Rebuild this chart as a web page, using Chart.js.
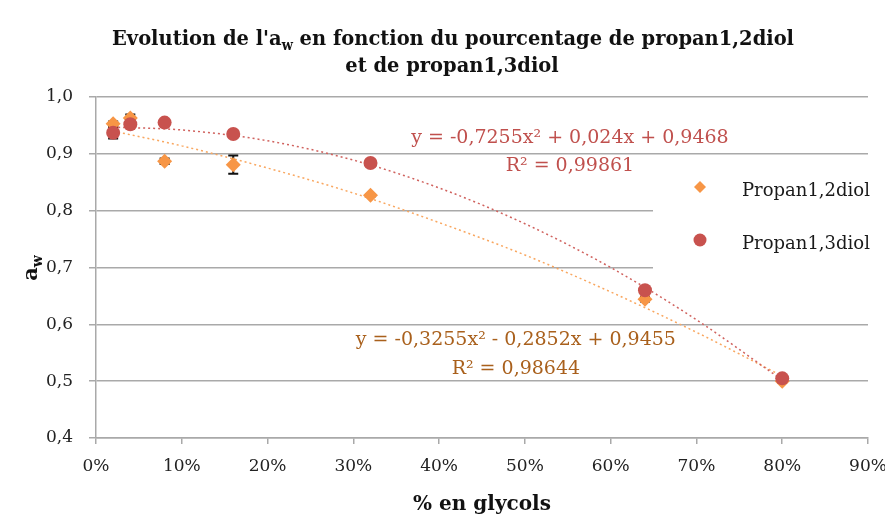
<!DOCTYPE html>
<html>
<head>
<meta charset="utf-8">
<script src="https://cdn.jsdelivr.net/npm/chart.js@4.4.1/dist/chart.umd.min.js"></script>
<style>
  html, body { margin: 0; padding: 0; background: #fff; }
  #wrap { width: 885px; height: 517px; position: relative; }
</style>
</head>
<body>
<div id="wrap"><canvas id="chart"></canvas></div>
<script>
// % glycol (fraction) and measured a_w
const xPercent = [0.02, 0.04, 0.08, 0.16, 0.32, 0.64, 0.80];
const aw12 = [0.953, 0.963, 0.887, 0.881, 0.827, 0.644, 0.500];
const err12 = [0.004, 0.006, 0.005, 0.016, 0.002, 0.004, 0.002];
const aw13 = [0.937, 0.952, 0.955, 0.935, 0.884, 0.660, 0.505];
const err13 = [0.010, 0.003, 0.002, 0.002, 0.002, 0.003, 0.002];

// points
const trendX = [0.02, 0.10, 0.20, 0.30, 0.40, 0.50, 0.60, 0.70, 0.80];
const trend12 = [0.940, 0.914, 0.875, 0.831, 0.779, 0.722, 0.657, 0.586, 0.509];
const trend13 = [0.947, 0.942, 0.923, 0.889, 0.840, 0.777, 0.700, 0.608, 0.502];

const seriesNames = ['Propan1,2diol', 'Propan1,3diol'];
const eq12 = ['y = -0,3255x² - 0,2852x + 0,9455', 'R² = 0,98644'];
const eq13 = ['y = -0,7255x² + 0,024x + 0,9468', 'R² = 0,99861'];

const ORANGE = '#F79646';
const RED = '#C8524E';
const GRID = '#a9a9a9';
const SERIF = "'DejaVu Serif', 'Liberation Serif', serif";

const toPts = (xs, ys) => xs.map((x, i) => ({ x: x, y: ys[i] }));

// error bars under the markers
const errorBars = {
  id: 'errorBars',
  beforeDatasetsDraw(chart) {
    const { ctx, scales: { x, y } } = chart;
    ctx.save();
    ctx.strokeStyle = '#111';
    ctx.lineWidth = 2;
    [[aw12, err12], [aw13, err13]].forEach(([vals, errs]) => {
      vals.forEach((v, i) => {
        const px = x.getPixelForValue(xPercent[i]);
        const top = y.getPixelForValue(v + errs[i]);
        const bot = y.getPixelForValue(v - errs[i]);
        ctx.beginPath();
        ctx.moveTo(px, top); ctx.lineTo(px, bot);
        ctx.moveTo(px - 5, top); ctx.lineTo(px + 5, top);
        ctx.moveTo(px - 5, bot); ctx.lineTo(px + 5, bot);
        ctx.stroke();
      });
    });
    ctx.restore();
  }
};

// legend sits on a white box over the grid, inside the plot
const boxLegend = {
  id: 'boxLegend',
  beforeDatasetsDraw(chart) {
    const ctx = chart.ctx;
    ctx.save();
    ctx.fillStyle = '#fff';
    ctx.fillRect(653, 160, 232, 124);
    // diamond
    ctx.fillStyle = ORANGE;
    ctx.beginPath();
    ctx.moveTo(700, 181); ctx.lineTo(706, 187); ctx.lineTo(700, 193); ctx.lineTo(694, 187);
    ctx.closePath(); ctx.fill();
    // circle
    ctx.fillStyle = RED;
    ctx.beginPath(); ctx.arc(700, 240, 6.5, 0, Math.PI * 2); ctx.fill();
    ctx.fillStyle = '#1a1a1a';
    ctx.font = '18px ' + SERIF;
    ctx.textBaseline = 'alphabetic';
    ctx.textAlign = 'left';
    ctx.fillText(seriesNames[0], 742, 196);
    ctx.fillText(seriesNames[1], 742, 249);
    ctx.restore();
  }
};

// title with subscript, y axis title, trend equations
const texts = {
  id: 'texts',
  afterDraw(chart) {
    const { ctx, scales: { x, y } } = chart;
    ctx.save();
    // title
    const big = 'bold 21px ' + SERIF, small = 'bold 14px ' + SERIF;
    const parts = [["Evolution de l'a", big, 0], ['w', small, 5], [' en fonction du pourcentage de propan1,2diol', big, 0]];
    let w = 0;
    parts.forEach(p => { ctx.font = p[1]; w += ctx.measureText(p[0]).width; });
    const sx = 682 / w;
    ctx.fillStyle = '#111';
    ctx.textBaseline = 'alphabetic';
    ctx.save();
    ctx.translate(112, 45);
    ctx.scale(sx, 1);
    let cx = 0;
    parts.forEach(p => { ctx.font = p[1]; ctx.fillText(p[0], cx, p[2]); cx += ctx.measureText(p[0]).width; });
    ctx.restore();
    ctx.save();
    ctx.translate(452, 72);
    ctx.scale(sx, 1);
    ctx.font = big; ctx.textAlign = 'center';
    ctx.fillText('et de propan1,3diol', 0, 0);
    ctx.restore();

    // y axis title a_w
    ctx.save();
    ctx.translate(37, 268);
    ctx.rotate(-Math.PI / 2);
    ctx.font = 'bold 21px ' + SERIF;
    const aw = ctx.measureText('a').width;
    ctx.font = 'bold 14px ' + SERIF;
    const ww = ctx.measureText('w').width;
    const start = -(aw + ww) / 2;
    ctx.font = 'bold 21px ' + SERIF;
    ctx.fillText('a', start, 0);
    ctx.font = 'bold 14px ' + SERIF;
    ctx.fillText('w', start + aw, 5);
    ctx.restore();

    // equations
    ctx.font = '19px ' + SERIF;
    ctx.textAlign = 'center';
    ctx.fillStyle = '#C0504D';
    ctx.fillText(eq13[0], x.getPixelForValue(0.5525), 143);
    ctx.fillText(eq13[1], x.getPixelForValue(0.5525), 171);
    ctx.fillStyle = '#A9601C';
    ctx.fillText(eq12[0], x.getPixelForValue(0.4895), 345);
    ctx.fillText(eq12[1], x.getPixelForValue(0.4895), 374);
    ctx.restore();
  }
};

new Chart(document.getElementById('chart'), {
  type: 'scatter',
  data: {
    datasets: [
      {
        label: seriesNames[1],
        data: toPts(xPercent, aw13),
        backgroundColor: RED, borderColor: RED,
        pointStyle: 'circle', pointRadius: 7, pointBorderWidth: 0,
        order: 0
      },
      {
        label: seriesNames[0],
        data: toPts(xPercent, aw12),
        backgroundColor: ORANGE, borderColor: ORANGE,
        pointStyle: 'rectRot', pointRadius: 7.5, pointBorderWidth: 0,
        order: 1
      },
      {
        type: 'line', label: 'trend13',
        data: toPts(trendX, trend13),
        borderColor: '#D0625E', borderWidth: 1.5, borderDash: [2, 3],
        pointRadius: 0, fill: false, cubicInterpolationMode: 'monotone',
        order: 2
      },
      {
        type: 'line', label: 'trend12',
        data: toPts(trendX, trend12),
        borderColor: '#F9A760', borderWidth: 1.5, borderDash: [2, 3],
        pointRadius: 0, fill: false, cubicInterpolationMode: 'monotone',
        order: 3
      }
    ]
  },
  options: {
    responsive: true,
    maintainAspectRatio: false,
    animation: false,
    layout: { padding: { top: 97, right: 17, left: 0, bottom: 0 } },
    scales: {
      x: {
        type: 'linear', min: 0, max: 0.9,
        afterFit: s => { s.height = 79; s.paddingLeft = 0; s.paddingRight = 0; },
        ticks: {
          stepSize: 0.1, padding: 12, color: '#222',
          font: { family: SERIF, size: 17 },
          callback: v => Math.round(v * 100) + '%'
        },
        grid: { drawOnChartArea: false, drawTicks: true, tickLength: 6, color: GRID, lineWidth: 1.5 },
        border: { display: true, color: GRID, width: 1.5 },
        title: { display: true, text: '% en glycols', color: '#111', font: { family: SERIF, size: 20, weight: 'bold' }, padding: { top: 4, bottom: 0 } }
      },
      y: {
        type: 'linear', min: 0.4, max: 1.0,
        afterFit: s => { s.width = 96; },
        ticks: {
          stepSize: 0.1, padding: 16, color: '#222',
          font: { family: SERIF, size: 17 },
          callback: v => v.toFixed(1).replace('.', ',')
        },
        grid: { color: GRID, lineWidth: 1.5, tickLength: 7, drawTicks: true },
        border: { display: true, color: GRID, width: 1.5 }
      }
    },
    plugins: {
      legend: { display: false },
      tooltip: { enabled: false }
    }
  },
  plugins: [errorBars, boxLegend, texts]
});
</script>
</body>
</html>
